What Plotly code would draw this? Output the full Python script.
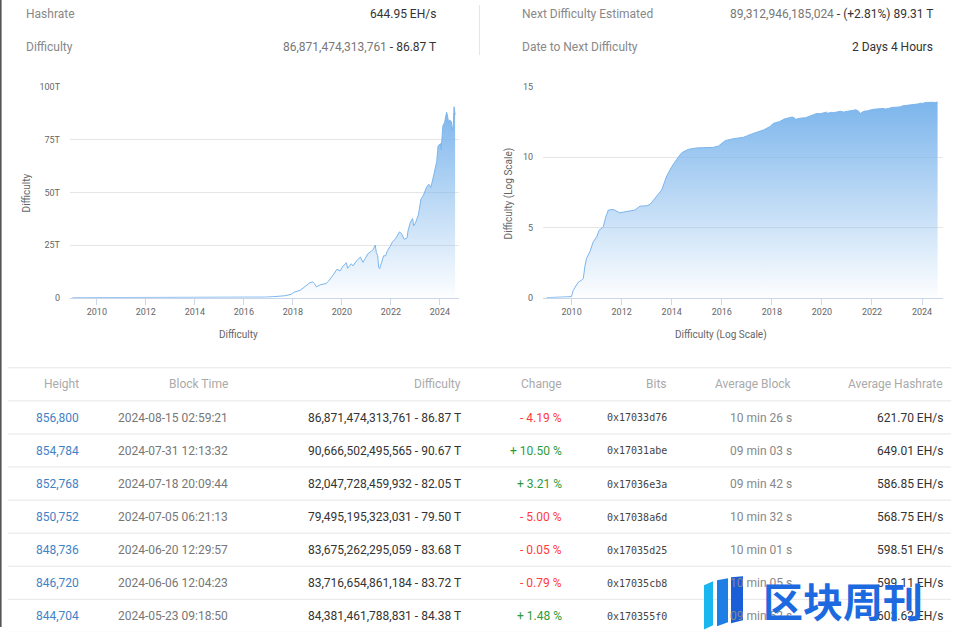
import numpy as np
import plotly.graph_objects as go

# ---------------- data ----------------
dates = [
    "2009-01-03", "2009-12-30", "2010-01-25", "2010-04-08", "2010-05-25", "2010-06-21",
    "2010-07-13", "2010-08-07", "2010-09-24", "2010-11-13", "2011-01-01", "2011-02-06",
    "2011-04-08", "2011-05-15", "2011-06-21", "2011-09-01", "2011-12-05", "2012-03-15",
    "2012-07-12", "2012-09-25", "2013-01-01", "2013-02-18", "2013-05-01", "2013-08-07",
    "2013-10-20", "2014-01-01", "2014-03-15", "2014-05-27", "2014-09-01", "2015-01-01",
    "2015-09-01", "2015-11-15", "2016-02-20", "2016-06-20", "2016-11-15", "2017-03-15",
    "2017-09-01", "2017-12-05", "2018-01-20", "2018-04-20", "2018-07-01", "2018-09-12",
    "2018-10-25", "2018-11-20", "2018-12-18", "2019-02-10", "2019-05-10", "2019-06-20",
    "2019-08-25", "2019-10-20", "2019-12-05", "2020-01-15", "2020-03-09", "2020-03-26",
    "2020-04-10", "2020-05-20", "2020-06-15", "2020-08-01", "2020-10-03", "2020-11-10",
    "2020-12-15", "2021-01-20", "2021-03-10", "2021-04-15", "2021-05-13", "2021-05-28",
    "2021-06-18", "2021-07-03", "2021-07-17", "2021-08-15", "2021-09-15", "2021-10-15",
    "2021-11-10", "2021-12-20", "2022-01-25", "2022-03-10", "2022-05-10", "2022-06-10",
    "2022-07-20", "2022-08-30", "2022-09-15", "2022-10-20", "2022-11-20", "2022-12-06",
    "2023-01-01", "2023-02-15", "2023-03-25", "2023-05-01", "2023-06-15", "2023-07-20",
    "2023-08-20", "2023-09-25", "2023-10-20", "2023-11-15", "2023-12-05", "2024-01-10",
    "2024-01-20", "2024-02-15", "2024-03-10", "2024-04-10", "2024-04-25", "2024-05-09",
    "2024-05-23", "2024-06-06", "2024-06-20", "2024-07-05", "2024-07-18", "2024-07-31",
    "2024-08-15",
]
difficulty = [
    1, 1.18, 3.3, 12.6, 17.4, 23,
    158, 630, 1820, 9500, 21000, 63000,
    112000, 570000, 1.74e6, 1.95e6, 1.12e6, 1.38e6,
    1.74e6, 3.3e6, 3.55e6, 4.37e6, 1.17e7, 4.68e7,
    4.68e8, 2.14e9, 7.24e9, 2.14e10, 3.72e10, 4.68e10,
    5.13e10, 6.46e10, 1.55e11, 2.14e11, 2.69e11, 4.68e11,
    8.91e11, 1.55e12, 2.6e12, 3.5e12, 5.4e12, 7.1e12,
    7.45e12, 6.65e12, 5.1e12, 6.07e12, 6.7e12, 8.0e12,
    10.8e12, 13.5e12, 12.7e12, 14.8e12, 16.6e12, 13.9e12,
    14.6e12, 16.1e12, 15.1e12, 17.3e12, 19.3e12, 16.8e12,
    18.6e12, 20.8e12, 21.9e12, 23.1e12, 25.0e12, 21.5e12,
    19.9e12, 14.4e12, 13.7e12, 16.8e12, 19.9e12, 19.9e12,
    22.3e12, 24.3e12, 26.6e12, 27.9e12, 31.3e12, 30.3e12,
    27.7e12, 28.4e12, 32.0e12, 36.0e12, 37.6e12, 34.2e12,
    35.4e12, 39.4e12, 46.8e12, 48.7e12, 52.4e12, 53.9e12,
    52.4e12, 57.3e12, 61.0e12, 64.7e12, 72.0e12, 73.2e12,
    70.3e12, 81.7e12, 83.1e12, 88.1e12, 86.4e12, 83.1e12,
    84.38e12, 83.72e12, 83.68e12, 79.50e12, 82.05e12, 90.67e12,
    86.87e12,
]

# top statistics
hashrate_now = 644.95
difficulty_now = 86871474313761
next_difficulty = 89312946185024
next_change_pct = 2.81
time_to_next = "2 Days 4 Hours"

# table
tbl_height = [856800, 854784, 852768, 850752, 848736, 846720, 844704]
tbl_time = ["2024-08-15 02:59:21", "2024-07-31 12:13:32", "2024-07-18 20:09:44",
            "2024-07-05 06:21:13", "2024-06-20 12:29:57", "2024-06-06 12:04:23",
            "2024-05-23 09:18:50"]
tbl_difficulty = [86871474313761, 90666502495565, 82047728459932, 79495195323031,
                  83675262295059, 83716654861184, 84381461788831]
tbl_change = [-4.19, 10.50, 3.21, -5.00, -0.05, -0.79, 1.48]
tbl_bits = ["0x17033d76", "0x17031abe", "0x17036e3a", "0x17038a6d",
            "0x17035d25", "0x17035cb8", "0x170355f0"]
tbl_avg_block = ["10 min 26 s", "09 min 03 s", "09 min 42 s", "10 min 32 s",
                 "10 min 01 s", "10 min 05 s", "09 min 52 s"]
tbl_avg_hashrate = [621.70, 649.01, 586.85, 568.75, 598.51, 599.11, 603.62]
tbl_headers = ["Height", "Block Time", "Difficulty", "Change", "Bits",
               "Average Block", "Average Hashrate"]

# ---------------- figure ----------------
W, H = 960, 632
FONT = "Roboto"
# vertical calibration of the capture (observed y = 0.982 * y + 5)
YS, YO = 0.982, 5.0


def px(x):
    return x / W


def py(y):
    return 1 - ((y - YO) / YS) / H


diff_T = [d / 1e12 for d in difficulty]
diff_log = [float(np.log10(d)) for d in difficulty]

BLUE = "#7cb5ec"
grad = [[0, "rgba(124,181,236,0)"], [1, "rgba(124,181,236,1)"]]

fig = go.Figure()
fig.add_trace(go.Scatter(
    x=dates, y=diff_T, mode="lines", line=dict(color=BLUE, width=1),
    fill="tozeroy",
    fillgradient=dict(type="vertical", colorscale=grad, start=0, stop=max(diff_T)),
    xaxis="x", yaxis="y", hoverinfo="skip", showlegend=False))
fig.add_trace(go.Scatter(
    x=dates, y=diff_log, mode="lines", line=dict(color=BLUE, width=1),
    fill="tozeroy",
    fillgradient=dict(type="vertical", colorscale=grad, start=0, stop=max(diff_log)),
    xaxis="x2", yaxis="y2", hoverinfo="skip", showlegend=False))

xcommon = dict(type="date", tickformat="%Y", dtick="M24", tick0="2010-01-01",
               ticks="outside", ticklen=6, tickcolor="#ccd6eb", tickwidth=1,
               showline=True, linecolor="#ccd6eb", linewidth=1, showgrid=False,
               zeroline=False, tickfont=dict(size=9, color="#666", family=FONT),
               fixedrange=True)
ycommon = dict(gridcolor="#e6e6e6", gridwidth=1, zeroline=False, showline=False,
               ticks="", ticklabelstandoff=9,
               tickfont=dict(size=9, color="#666", family=FONT), fixedrange=True)

fig.update_layout(
    width=W, height=H, margin=dict(l=0, r=0, t=0, b=0),
    paper_bgcolor="white", plot_bgcolor="white",
    font=dict(family=FONT, size=12, color="#333"),
    xaxis=dict(domain=[px(70), px(459)], range=["2008-11-27", "2024-10-12"],
               anchor="y", **xcommon),
    yaxis=dict(domain=[py(297), py(87)], range=[0, 100], anchor="x",
               tickvals=[0, 25, 50, 75, 100],
               ticktext=["0", "25T", "50T", "75T", "100T"], **ycommon),
    xaxis2=dict(domain=[px(543), px(943)], range=["2008-11-10", "2024-11-02"],
                anchor="y2", **xcommon),
    yaxis2=dict(domain=[py(297), py(87)], range=[0, 15], anchor="x2",
                tickvals=[0, 5, 10, 15], **ycommon),
)

ann = []
shapes = []


def text(x, y, s, anchor="left", size=12, color="#333", family=FONT, angle=0):
    ann.append(dict(x=px(x), y=py(y), xref="paper", yref="paper", text=s,
                    showarrow=False, xanchor=anchor, yanchor="middle",
                    textangle=angle, borderpad=0,
                    font=dict(size=size, color=color, family=family)))


def hline(x0, x1, y, color="#e6e6e6", width=1):
    shapes.append(dict(type="line", xref="paper", yref="paper",
                       x0=px(x0), x1=px(x1), y0=py(y), y1=py(y),
                       line=dict(color=color, width=width)))


# top stats
GRAY = "#888"
text(25, 14, "Hashrate", color=GRAY)
text(437, 14, f"{hashrate_now:.2f} EH/s", anchor="right")
text(25, 47, "Difficulty", color=GRAY)
text(437, 47, f"<span style='color:#777'>{difficulty_now:,}</span> - {difficulty_now/1e12:.2f} T",
     anchor="right")
text(521, 14, "Next Difficulty Estimated", color=GRAY)
text(934, 14, f"<span style='color:#777'>{next_difficulty:,}</span> - (+{next_change_pct:.2f}%) {next_difficulty/1e12:.2f} T",
     anchor="right")
text(521, 47, "Date to Next Difficulty", color=GRAY)
text(934, 47, time_to_next, anchor="right")
shapes.append(dict(type="line", xref="paper", yref="paper", x0=px(479.5), x1=px(479.5),
                   y0=py(5), y1=py(55), line=dict(color="#e6e6e6", width=1)))

# chart axis titles
text(26, 193, "Difficulty", size=10, color="#666", angle=-90)
text(238, 334, "Difficulty", anchor="center", size=10, color="#666")
text(509, 193, "Difficulty (Log Scale)", size=10, color="#666", angle=-90)
text(721, 334, "Difficulty (Log Scale)", anchor="center", size=10, color="#666")
for a in ann[-4:]:
    a["xanchor"] = "center"

# table
col_right = [80, 229, 462, 563, 668, 793, 944]
hline(8, 951, 367)
for j, h in enumerate(tbl_headers):
    text(col_right[j], 383, h, anchor="right", color="#aaa")
hline(8, 951, 400)
for i in range(len(tbl_height)):
    y = 417 + 33 * i
    text(col_right[0], y, f"{tbl_height[i]:,}", anchor="right", color="#3f82c6")
    text(col_right[1], y, tbl_time[i], anchor="right", color="#777")
    d = tbl_difficulty[i]
    text(col_right[2], y, f"{d:,} - {d/1e12:.2f} T", anchor="right", color="#333")
    c = tbl_change[i]
    if c < 0:
        text(col_right[3], y, f"- {abs(c):.2f} %", anchor="right", color="#ff3b3b")
    else:
        text(col_right[3], y, f"+ {c:.2f} %", anchor="right", color="#2e9b3a")
    text(col_right[4], y, tbl_bits[i], anchor="right", color="#444", size=10,
         family="DejaVu Sans Mono")
    text(col_right[5], y, tbl_avg_block[i], anchor="right", color="#888")
    text(col_right[6], y, f"{tbl_avg_hashrate[i]:.2f} EH/s", anchor="right", color="#333")
    hline(8, 951, 400 + 33 * (i + 1))

# page left edge
shapes.append(dict(type="line", xref="paper", yref="paper", x0=px(0.8), x1=px(0.8),
                   y0=0, y1=1.02, line=dict(color="#555", width=1.6)))


# watermark
def poly(pts, color):
    path = "M " + " L ".join(f"{px(x)},{py(y)}" for x, y in pts) + " Z"
    shapes.append(dict(type="path", xref="paper", yref="paper", path=path,
                       fillcolor=color, line=dict(width=0), layer="above"))


poly([(704, 584), (713, 580), (713, 624), (704, 628)], "#19b6f0")
poly([(717, 579), (728, 577), (728, 621), (717, 625)], "#1f7ee6")
poly([(731, 576), (743, 575), (743, 619), (731, 622)], "#1b5fd8")
ann.append(dict(x=px(843), y=py(599), xref="paper", yref="paper", text="<b>区块周刊</b>",
                showarrow=False, xanchor="center", yanchor="middle", borderpad=0,
                font=dict(size=40, color="#1d6ae0", family="Noto Sans CJK SC")))

fig.update_layout(annotations=ann, shapes=shapes)
fig.write_html("out.html")
